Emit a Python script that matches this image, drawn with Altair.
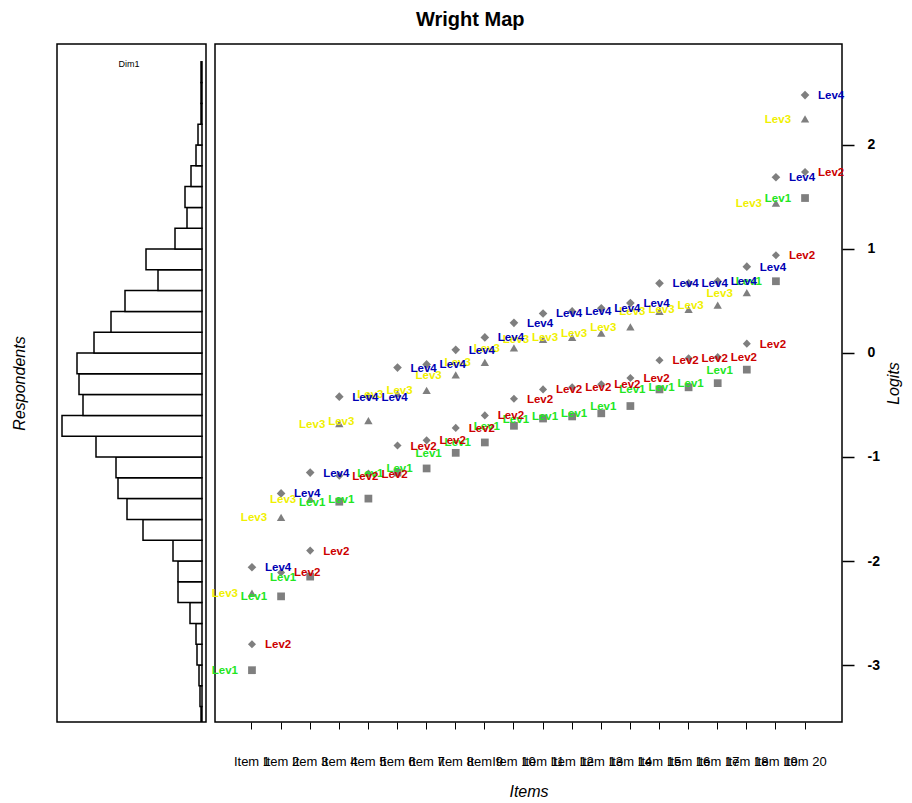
import altair as alt
import pandas as pd

# ---------------- data ----------------
items = ["Item 1", "Item 2", "Item 3", "Item 4", "Item 5", "Item 6", "Item 7",
         "Item 8", "Item 9", "Item 10", "Item 11", "Item 12", "Item 13", "Item 14",
         "Item 15", "Item 16", "Item 17", "Item 18", "Item 19", "Item 20"]

lev1 = [-3.05, -2.34, -2.15, -1.43, -1.40, -1.15, -1.11, -0.96, -0.86, -0.70,
        -0.63, -0.61, -0.58, -0.51, -0.35, -0.33, -0.29, -0.16, 0.69, 1.49]
lev2 = [-2.80, -2.11, -1.90, -1.18, -1.16, -0.89, -0.84, -0.72, -0.60, -0.44,
        -0.35, -0.33, -0.30, -0.24, -0.07, -0.05, -0.04, 0.09, 0.94, 1.74]
lev3 = [-2.31, -1.58, -1.40, -0.68, -0.65, -0.39, -0.36, -0.21, -0.09, 0.05,
        0.13, 0.15, 0.19, 0.25, 0.40, 0.42, 0.46, 0.58, 1.44, 2.25]
lev4 = [-2.06, -1.35, -1.15, -0.42, -0.42, -0.14, -0.11, 0.03, 0.15, 0.29,
        0.38, 0.40, 0.43, 0.48, 0.67, 0.67, 0.69, 0.83, 1.69, 2.48]

levels = ["Lev1", "Lev2", "Lev3", "Lev4"]
level_colors = ["#22E622", "#CC0000", "#F0F000", "#0000B4"]
level_shapes = ["square", "diamond", "triangle-up", "diamond"]
level_sizes = [60, 75, 80, 60]

# respondents histogram (logit bins, frequency)
bin_lo = [-3.6, -3.4, -3.2, -3.0, -2.8, -2.6, -2.4, -2.2, -2.0, -1.8, -1.6,
          -1.4, -1.2, -1.0, -0.8, -0.6, -0.4, -0.2, 0.0, 0.2, 0.4, 0.6,
          0.8, 1.0, 1.2, 1.4, 1.6, 1.8, 2.0, 2.2, 2.4, 2.6]
bin_hi = [-3.4, -3.2, -3.0, -2.8, -2.6, -2.4, -2.2, -2.0, -1.8, -1.6, -1.4,
          -1.2, -1.0, -0.8, -0.6, -0.4, -0.2, 0.0, 0.2, 0.4, 0.6, 0.8,
          1.0, 1.2, 1.4, 1.6, 1.8, 2.0, 2.2, 2.4, 2.6, 2.8]
bin_count = [1, 2, 3, 5, 6, 12, 24, 24, 29, 59, 75,
             84, 86, 106, 140, 119, 123, 125, 108, 91, 77, 44,
             56, 27, 15, 17, 11, 6, 4, 1, 1, 1]

y_ticks = [-3, -2, -1, 0, 1, 2]
Y_DOMAIN = [-3.548, 2.971]

FONT = "Liberation Sans"

# ---------------- tables ----------------
rows = []
for i, it in enumerate(items):
    for lev, vals in zip(levels, [lev1, lev2, lev3, lev4]):
        rows.append({"item": it, "level": lev, "logit": vals[i]})
pts = pd.DataFrame(rows)

hist_df = pd.DataFrame({"lo": bin_lo, "hi": bin_hi, "count": bin_count})

# ---------------- histogram panel ----------------
yscale_h = alt.Scale(domain=Y_DOMAIN, nice=False, zero=False)

hist_bars = alt.Chart(hist_df).mark_rect(
    fill="white", stroke="black", strokeWidth=1.5, clip=True
).encode(
    x=alt.X("count:Q", scale=alt.Scale(domain=[-4, 145], reverse=True, nice=False, zero=False), axis=None),
    x2=alt.datum(0),
    y=alt.Y("lo:Q", scale=yscale_h,
            axis=alt.Axis(title="Respondents", labels=False, ticks=False, domain=False, grid=False,
                          titlePadding=30, titleFontSize=16, titleFontStyle="italic",
                          titleFontWeight="normal", titleColor="black", titleFont=FONT)),
    y2="hi:Q",
)

dim_label = alt.Chart(pd.DataFrame({"t": ["Dim1"]})).mark_text(
    fontSize=9, font=FONT, color="black"
).encode(text="t:N", x=alt.value(72), y=alt.value(20))

hist = alt.layer(hist_bars, dim_label).properties(width=149, height=678)

# ---------------- item panel ----------------
xenc = alt.X("item:N", sort=items,
             scale=alt.Scale(type="band", paddingInner=0, paddingOuter=0.77),
             axis=alt.Axis(title="Items", labelAngle=0, labelOverlap=False, labelFontSize=13,
                           labelFont=FONT, labelColor="black", labelPadding=26, tickSize=7,
                           tickColor="black", domain=False, grid=False,
                           titleFontSize=16, titleFontStyle="italic", titleFontWeight="normal",
                           titleFont=FONT, titleColor="black", titlePadding=15))
yenc = alt.Y("logit:Q", scale=alt.Scale(domain=Y_DOMAIN, nice=False, zero=False),
             axis=alt.Axis(orient="right", values=y_ticks, labelExpr="toString(datum.value)",
                           title="Logits",
                           labelFontSize=14, labelFontWeight="bold", labelFont=FONT,
                           labelColor="black", labelPadding=13, tickSize=12, tickWidth=1.5,
                           tickColor="black", domain=False, grid=False, titleAngle=270,
                           titleFontSize=16, titleFontStyle="italic", titleFontWeight="normal",
                           titleFont=FONT, titleColor="black", titlePadding=22))

points = alt.Chart(pts).mark_point(filled=True, opacity=1, color="#7F7F7F").encode(
    x=xenc, y=yenc,
    shape=alt.Shape("level:N", scale=alt.Scale(domain=levels, range=level_shapes), legend=None),
    size=alt.Size("level:O", scale=alt.Scale(domain=levels, range=level_sizes), legend=None),
)

color_enc = alt.Color("level:N", scale=alt.Scale(domain=levels, range=level_colors), legend=None)

labels_right = alt.Chart(pts).transform_filter(
    "datum.level == 'Lev2' || datum.level == 'Lev4'"
).mark_text(align="left", baseline="middle", dx=13, dy=1, fontSize=11.5, fontWeight="bold", font=FONT).encode(
    x=xenc, y=yenc, text="level:N", color=color_enc)

labels_left = alt.Chart(pts).transform_filter(
    "datum.level == 'Lev1' || datum.level == 'Lev3'"
).mark_text(align="right", baseline="middle", dx=-14, dy=1, fontSize=11.5, fontWeight="bold", font=FONT).encode(
    x=xenc, y=yenc, text="level:N", color=color_enc)

main = alt.layer(points, labels_left, labels_right).properties(width=627, height=678)

chart = alt.hconcat(hist, main, spacing=9, bounds="flush").resolve_scale(
    x="independent", y="independent"
).properties(
    title=alt.TitleParams("Wright Map", fontSize=20, fontWeight="bold", font=FONT,
                          anchor="middle", dx=14, offset=13, color="black"),
    padding={"left": 10, "top": 10, "right": 6, "bottom": 2},
    background="white",
).configure(
    font=FONT,
    view=alt.ViewConfig(stroke="black", strokeWidth=1.5),
)

chart.save("out.html", embed_options={"renderer": "svg", "actions": False})
